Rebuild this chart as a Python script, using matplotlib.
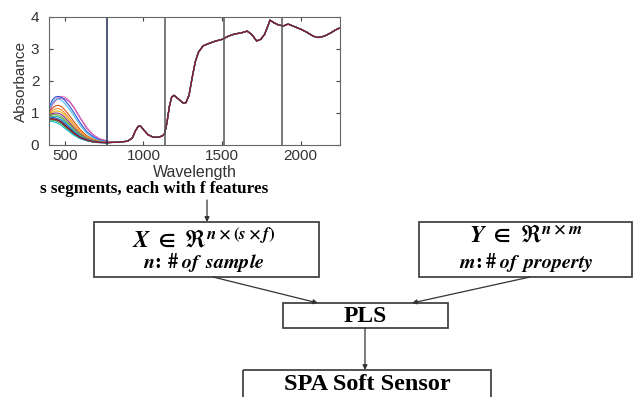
import numpy as np
import matplotlib
matplotlib.use('Agg')
import matplotlib.pyplot as plt
from matplotlib.patches import Rectangle

plt.rcParams['mathtext.fontset'] = 'custom'
plt.rcParams['mathtext.it'] = 'STIXGeneral:bold:italic'
plt.rcParams['mathtext.rm'] = 'STIXGeneral:bold'
plt.rcParams['mathtext.bf'] = 'STIXGeneral:bold'
plt.rcParams['mathtext.fallback'] = 'stix'

# sample-specific part of the spectra (visible region)
wl_head = [400, 420, 440, 460, 480, 500, 530, 560, 600, 640, 680, 720, 770]
head_values = [
    [1.05, 1.30, 1.42, 1.50, 1.52, 1.50, 1.38, 1.18, 0.85, 0.55, 0.33, 0.20, 0.13],
    [1.00, 1.25, 1.38, 1.45, 1.47, 1.45, 1.35, 1.15, 0.82, 0.52, 0.31, 0.19, 0.12],
    [1.15, 1.40, 1.50, 1.52, 1.48, 1.40, 1.22, 1.00, 0.68, 0.42, 0.26, 0.16, 0.11],
    [1.10, 1.32, 1.42, 1.44, 1.40, 1.30, 1.12, 0.90, 0.60, 0.37, 0.22, 0.14, 0.10],
    [1.00, 1.15, 1.22, 1.24, 1.20, 1.10, 0.92, 0.72, 0.47, 0.29, 0.18, 0.12, 0.09],
    [0.95, 1.08, 1.13, 1.14, 1.10, 1.00, 0.83, 0.64, 0.42, 0.26, 0.16, 0.11, 0.09],
    [0.92, 1.02, 1.06, 1.06, 1.02, 0.93, 0.76, 0.58, 0.38, 0.23, 0.15, 0.10, 0.08],
    [0.90, 0.98, 1.00, 0.99, 0.95, 0.86, 0.70, 0.53, 0.34, 0.21, 0.14, 0.10, 0.08],
    [0.88, 0.94, 0.95, 0.93, 0.88, 0.79, 0.64, 0.48, 0.31, 0.19, 0.13, 0.09, 0.08],
    [0.85, 0.90, 0.90, 0.88, 0.83, 0.74, 0.59, 0.44, 0.28, 0.17, 0.12, 0.09, 0.07],
    [0.82, 0.86, 0.85, 0.82, 0.77, 0.68, 0.54, 0.40, 0.25, 0.16, 0.11, 0.08, 0.07],
    [0.80, 0.82, 0.80, 0.77, 0.71, 0.62, 0.49, 0.36, 0.23, 0.15, 0.10, 0.08, 0.07],
    [0.77, 0.78, 0.76, 0.72, 0.66, 0.57, 0.45, 0.33, 0.21, 0.14, 0.10, 0.08, 0.07],
    [0.74, 0.74, 0.71, 0.67, 0.61, 0.52, 0.41, 0.30, 0.19, 0.13, 0.09, 0.07, 0.07],
]
curve_colors = ['#e377c2', '#c45ab3', '#2c4fd8', '#4dbeee', '#d95319', '#f28e2b',
                '#edb120', '#7e2f8e', '#77ac30', '#2ca8a0', '#0072bd', '#a2142f',
                '#3a9a3a', '#17becf']

# common part of the spectra (NIR region)
wl_tail = [800, 850, 900, 930, 950, 970, 985, 1000, 1030, 1060, 1090, 1120, 1135,
           1150, 1165, 1180, 1195, 1220, 1250, 1270, 1290, 1310, 1330, 1350, 1380,
           1420, 1460, 1500, 1540, 1580, 1620, 1660, 1690, 1720, 1745, 1770, 1790,
           1805, 1830, 1860, 1890, 1920, 1950, 2000, 2040, 2080, 2110, 2150, 2190,
           2230, 2250]
tail_values = [0.08, 0.09, 0.12, 0.22, 0.45, 0.60, 0.58, 0.48, 0.32, 0.25, 0.24, 0.28, 0.35,
               0.70, 1.20, 1.50, 1.55, 1.45, 1.32, 1.32, 1.55, 2.10, 2.60, 2.90, 3.10,
               3.18, 3.25, 3.30, 3.40, 3.47, 3.50, 3.56, 3.45, 3.25, 3.30, 3.45, 3.70,
               3.90, 3.82, 3.75, 3.72, 3.78, 3.72, 3.62, 3.52, 3.40, 3.36, 3.40, 3.50,
               3.62, 3.66]

segment_edges = [770, 1140, 1510, 1880]
segment_colors = ['#1f2a5a', '#555555', '#555555', '#555555']

fig = plt.figure(figsize=(6.33, 3.97), dpi=100)
ax = fig.add_axes([49 / 633, 1 - 145 / 397, 291 / 633, 128 / 397])

wl = wl_head + wl_tail
for vals, c in zip(head_values, curve_colors):
    ax.plot(wl, vals + tail_values, color=c, lw=0.8)
ax.plot(wl, head_values[-3] + tail_values, color='#8a1538', lw=1.0)

for x, c in zip(segment_edges, segment_colors):
    ax.axvline(x, color=c, lw=1.1)

ax.set_xlim(400, 2250)
ax.set_ylim(0, 4)
ax.set_xticks([500, 1000, 1500, 2000])
ax.set_yticks([0, 1, 2, 3, 4])
ax.tick_params(direction='in', top=True, right=True, length=3, labelsize=11,
               colors='#444444', labelcolor='#333333')
ax.tick_params(axis='x', pad=3)
ax.tick_params(axis='y', pad=7)
for sp in ax.spines.values():
    sp.set_color('#666666')
    sp.set_linewidth(0.8)
for lab in ax.get_xticklabels() + ax.get_yticklabels():
    lab.set_family('Liberation Sans')
ax.set_xlabel('Wavelength', fontsize=11.5, family='Liberation Sans', color='#333333', labelpad=1)
ax.set_ylabel('Absorbance', fontsize=11, family='Liberation Sans', color='#333333',
              labelpad=2)

# flow diagram in pixel coordinates
d = fig.add_axes([0, 0, 1, 1], zorder=-1)
d.set_xlim(0, 633)
d.set_ylim(397, 0)
d.axis('off')

serif = 'Liberation Serif'
d.text(154, 189, 's segments, each with f features', ha='center', va='center',
       family=serif, weight='bold', fontsize=12.3)

boxes = [(94, 222, 225, 55), (419, 222, 213, 55), (283, 303, 165, 25), (243, 370, 248, 40)]
for x, y, w, h in boxes:
    d.add_patch(Rectangle((x, y), w, h, fill=False, ec='#444444', lw=1.3))

arrow = dict(arrowstyle='-|>', color='#333333', lw=0.9, mutation_scale=7,
             shrinkA=0, shrinkB=0)
d.annotate('', xy=(207, 222), xytext=(207, 200), arrowprops=arrow)
d.annotate('', xy=(318, 303), xytext=(213, 277), arrowprops=arrow)
d.annotate('', xy=(412, 303), xytext=(530, 277), arrowprops=arrow)
d.annotate('', xy=(365, 370), xytext=(365, 328), arrowprops=arrow)

d.text(204, 240, r'$X\;\in\;\Re^{n\times(s\times f)}$', ha='center', va='center', fontsize=17.5)
d.text(204, 263, r'$n\!:\,\#\;of\;\,sample$', ha='center', va='center', fontsize=14.5)
d.text(526, 236, r'$Y\;\in\;\Re^{n\times m}$', ha='center', va='center', fontsize=17.5)
d.text(526, 262, r'$m\!:\#\;of\;\,property$', ha='center', va='center', fontsize=14.5)
d.text(365, 317, 'PLS', ha='center', va='center', family=serif, weight='bold', fontsize=17)
d.text(367, 385, 'SPA Soft Sensor', ha='center', va='center', family=serif,
       weight='bold', fontsize=17.5)

fig.savefig('out.png', dpi=100)
